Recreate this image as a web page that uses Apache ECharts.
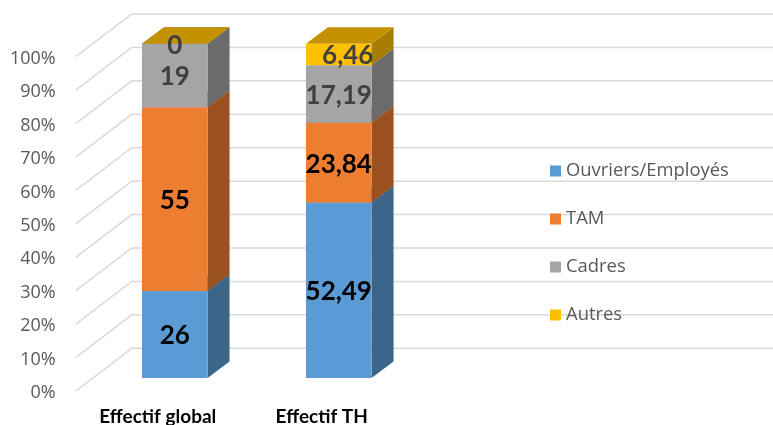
<!DOCTYPE html>
<html>
<head>
<meta charset="utf-8">
<style>html,body{margin:0;padding:0;background:#fff}#chart{width:773px;height:425px}</style>
<script src="https://cdn.jsdelivr.net/npm/echarts@6/dist/echarts.min.js"></script>
</head>
<body>
<div id="chart"></div>
<script>
// Répartition des effectifs par catégorie socioprofessionnelle (%)
const categories = ['Effectif global', 'Effectif TH'];
const ouvriersEmployes = [26, 52.49];
const tam = [55, 23.84];
const cadres = [19, 17.19];
const autres = [0, 6.46];
const yTicks = [0, 10, 20, 30, 40, 50, 60, 70, 80, 90, 100];

const groups = [
  { name: 'Ouvriers/Employés', values: ouvriersEmployes, front: '#5B9BD5', side: '#3C6689', top: '#4A7FAE', text: '#000000' },
  { name: 'TAM', values: tam, front: '#ED7D31', side: '#9A511F', top: '#C06526', text: '#000000' },
  { name: 'Cadres', values: cadres, front: '#A5A5A5', side: '#6B6B6B', top: '#868686', text: '#404040' },
  { name: 'Autres', values: autres, front: '#FFC000', side: '#A67D00', top: '#C49200', text: '#404040' }
];

// Projection oblique : profondeur du mur du fond et position des barres
const WALL_DX = 56, WALL_DY = 42.7;
const BAR_DX = 17, BAR_DY = 13;
const SIDE_DX = 22, SIDE_DY = 16.5;
const BAR_RATIO = 0.4;
const NUDGED_LABEL_DX = 9;
const LABEL_DY = 1.5;

const totals = categories.map((_, i) => groups.reduce((s, g) => s + g.values[i], 0));

function stackedData(groupIndex) {
  return categories.map((_, i) => {
    let base = 0;
    for (let k = 0; k < groupIndex; k++) base += groups[k].values[i];
    const v = groups[groupIndex].values[i];
    return [i, base / totals[i] * 100, (base + v) / totals[i] * 100, v];
  });
}

function renderSegment(group, groupIndex) {
  return function (params, api) {
    const band = api.size([1, 0])[0];
    const w = band * BAR_RATIO;
    const c0 = api.coord([api.value(0), api.value(1)]);
    const c1 = api.coord([api.value(0), api.value(2)]);
    const x0 = c0[0] + BAR_DX - w / 2, x1 = x0 + w;
    const yb = c0[1] - BAR_DY, yt = c1[1] - BAR_DY;
    const raw = api.value(3);
    const children = [
      { type: 'polygon', shape: { points: [[x1, yb], [x1 + SIDE_DX, yb - SIDE_DY], [x1 + SIDE_DX, yt - SIDE_DY], [x1, yt]] }, style: { fill: group.side } },
      { type: 'polygon', shape: { points: [[x0, yt], [x1, yt], [x1 + SIDE_DX, yt - SIDE_DY], [x0 + SIDE_DX, yt - SIDE_DY]] }, style: { fill: group.top } },
      { type: 'rect', shape: { x: x0, y: yt, width: w, height: yb - yt }, style: { fill: group.front } }
    ];
    const nudge = groupIndex === 3 && raw > 0 ? NUDGED_LABEL_DX : 0;
    children.push({
      type: 'text', z2: 10,
      style: {
        x: (x0 + x1) / 2 + nudge, y: (yb + yt) / 2 + LABEL_DY,
        text: String(raw).replace('.', ','),
        align: 'center', verticalAlign: 'middle',
        font: 'bold 26px Lato', fill: group.text
      }
    });
    return { type: 'group', children };
  };
}

const gridSeries = {
  type: 'custom', name: 'grille', silent: true, z: 1,
  data: yTicks.map(t => [0, t]),
  encode: { x: 0, y: 1 },
  renderItem(params, api) {
    const band = api.size([1, 0])[0];
    const c = api.coord([0, api.value(1)]);
    const left = c[0] - band / 2;
    return {
      type: 'polyline',
      shape: { points: [[left, c[1]], [left + WALL_DX, c[1] - WALL_DY], [api.getWidth(), c[1] - WALL_DY]] },
      style: { stroke: '#D9D9D9', lineWidth: 1.5, fill: null }
    };
  }
};

const barSeries = groups.map((g, i) => ({
  type: 'custom', name: g.name, z: 2 + i,
  itemStyle: { color: g.front },
  data: stackedData(i),
  encode: { x: 0, y: [1, 2] },
  renderItem: renderSegment(g, i)
}));

const chart = echarts.init(document.getElementById('chart'), null, { renderer: 'canvas' });
chart.setOption({
  animation: false,
  backgroundColor: '#ffffff',
  grid: { left: 75.75, width: 328, top: 56.7, bottom: 34, outerBoundsMode: 'none' },
  xAxis: {
    type: 'category', data: categories,
    axisLine: { show: false }, axisTick: { show: false }, splitLine: { show: false },
    axisLabel: { color: '#000000', fontFamily: 'Lato', fontWeight: 'bold', fontSize: 19, margin: 16 }
  },
  yAxis: {
    type: 'value', min: 0, max: 100, interval: 10,
    axisLine: { show: false }, axisTick: { show: false }, splitLine: { show: false },
    axisLabel: {
      margin: 20,
      formatter: v => '{tick|' + v + '%}',
      rich: { tick: { color: '#595959', fontFamily: 'Open Sans', fontSize: 18, padding: [4, 0, 0, 0] } }
    }
  },
  legend: {
    orient: 'vertical', left: 545, top: 154,
    data: groups.map(g => ({ name: g.name, icon: 'rect' })),
    itemWidth: 11, itemHeight: 11, itemGap: 24,
    textStyle: { color: '#595959', fontFamily: 'Open Sans', fontSize: 18.4, lineHeight: 24 }
  },
  series: [gridSeries].concat(barSeries)
});
</script>
</body>
</html>
